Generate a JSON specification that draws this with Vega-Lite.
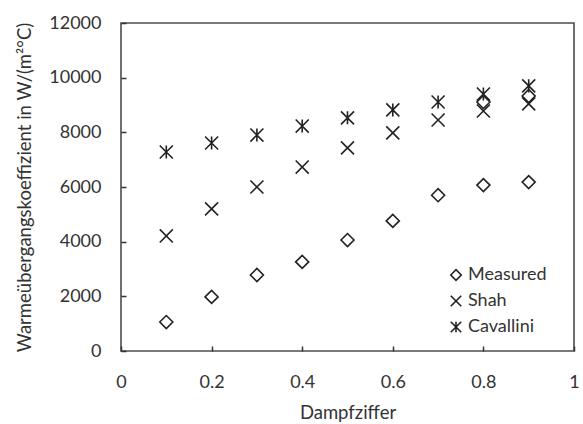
{
  "$schema": "https://vega.github.io/schema/vega-lite/v6.json",
  "width": 453,
  "height": 328,
  "autosize": "none",
  "padding": {"left": 121, "top": 23, "right": 9, "bottom": 73},
  "background": "white",
  "config": {
    "font": "Lato",
    "view": {"stroke": "#4d4d4d", "strokeWidth": 1.6},
    "axis": {
      "grid": false,
      "domain": false,
      "ticks": true,
      "tickColor": "#333333",
      "tickSize": 5,
      "tickWidth": 1.5,
      "offset": -5,
      "zindex": 1,
      "labelFlush": false,
      "labelFont": "Lato",
      "labelFontSize": 18,
      "labelColor": "#333333",
      "titleFont": "Lato",
      "titleFontSize": 18.5,
      "titleFontWeight": "normal",
      "titleColor": "#333333"
    }
  },
  "data": {
    "values": [
      {"x": 0.1, "h": 1060, "series": "Measured"},
      {"x": 0.2, "h": 1980, "series": "Measured"},
      {"x": 0.3, "h": 2780, "series": "Measured"},
      {"x": 0.4, "h": 3260, "series": "Measured"},
      {"x": 0.5, "h": 4060, "series": "Measured"},
      {"x": 0.6, "h": 4760, "series": "Measured"},
      {"x": 0.7, "h": 5700, "series": "Measured"},
      {"x": 0.8, "h": 6070, "series": "Measured"},
      {"x": 0.9, "h": 6180, "series": "Measured"},
      {"x": 0.8, "h": 9110, "series": "Measured"},
      {"x": 0.9, "h": 9330, "series": "Measured"},
      {"x": 0.1, "h": 4210, "series": "Shah"},
      {"x": 0.2, "h": 5200, "series": "Shah"},
      {"x": 0.3, "h": 6000, "series": "Shah"},
      {"x": 0.4, "h": 6730, "series": "Shah"},
      {"x": 0.5, "h": 7430, "series": "Shah"},
      {"x": 0.6, "h": 7980, "series": "Shah"},
      {"x": 0.7, "h": 8450, "series": "Shah"},
      {"x": 0.8, "h": 8780, "series": "Shah"},
      {"x": 0.9, "h": 9040, "series": "Shah"},
      {"x": 0.1, "h": 7280, "series": "Cavallini"},
      {"x": 0.2, "h": 7610, "series": "Cavallini"},
      {"x": 0.3, "h": 7900, "series": "Cavallini"},
      {"x": 0.4, "h": 8230, "series": "Cavallini"},
      {"x": 0.5, "h": 8530, "series": "Cavallini"},
      {"x": 0.6, "h": 8820, "series": "Cavallini"},
      {"x": 0.7, "h": 9110, "series": "Cavallini"},
      {"x": 0.8, "h": 9400, "series": "Cavallini"},
      {"x": 0.9, "h": 9700, "series": "Cavallini"}
    ]
  },
  "mark": {"type": "point", "filled": false, "stroke": "#222222", "strokeWidth": 1.6, "size": 170, "opacity": 1},
  "encoding": {
    "x": {
      "field": "x",
      "type": "quantitative",
      "title": "Dampfziffer",
      "scale": {"domain": [0, 1], "nice": false},
      "axis": {"values": [0, 0.2, 0.4, 0.6, 0.8, 1], "format": "~g", "labelPadding": 22, "titlePadding": 12}
    },
    "y": {
      "field": "h",
      "type": "quantitative",
      "title": "Warmeübergangskoeffizient in W/(m²°C)",
      "scale": {"domain": [0, 12000], "nice": false},
      "axis": {"values": [0, 2000, 4000, 6000, 8000, 10000, 12000], "format": "d", "labelPadding": 20, "titlePadding": 14}
    },
    "shape": {
      "field": "series",
      "type": "nominal",
      "scale": {
        "domain": ["Measured", "Shah", "Cavallini"],
        "range": ["diamond", "M-1,-1L1,1M-1,1L1,-1", "M-1,-1L1,1M-1,1L1,-1M0,-1L0,1"]
      },
      "legend": {
        "title": null,
        "orient": "none",
        "legendX": 326,
        "legendY": 243,
        "labelFont": "Lato",
        "labelFontSize": 18,
        "labelColor": "#333333",
        "symbolSize": 110,
        "symbolStrokeColor": "#222222",
        "symbolStrokeWidth": 1.6,
        "symbolFillColor": "transparent",
        "rowPadding": 8,
        "labelOffset": 3
      }
    }
  }
}
